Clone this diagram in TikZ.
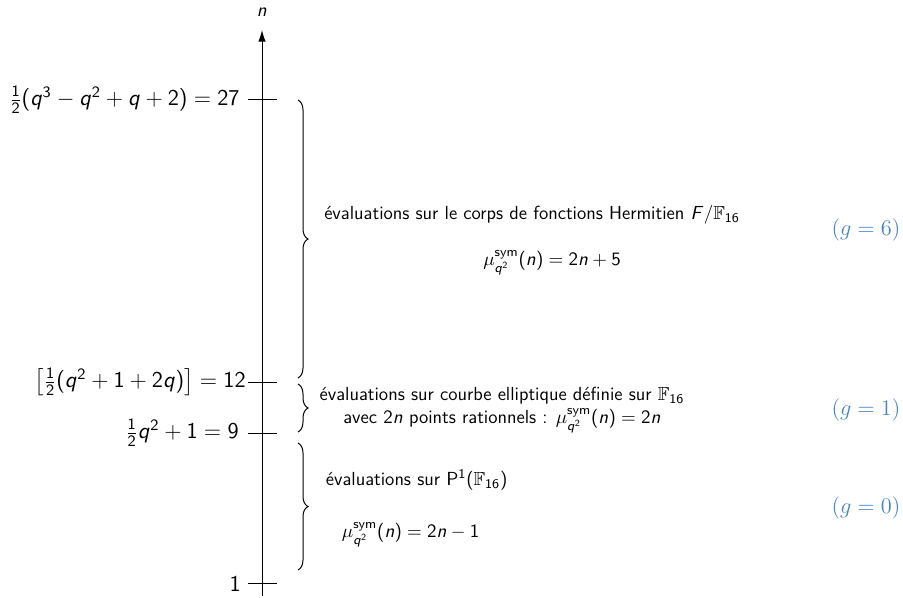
\RequirePackage{fix-cm}
\documentclass[tikz,border=0pt]{standalone}
\usepackage{amsmath}
\usepackage{amssymb}
\usepackage{tikz}
\usepackage{xcolor}
\usetikzlibrary{arrows.meta,decorations.pathreplacing}
\renewcommand{\familydefault}{\sfdefault}
% sans math, as on the slides
\SetSymbolFont{operators}{normal}{OT1}{cmss}{m}{n}
\DeclareSymbolFont{sfit}{OT1}{cmss}{m}{sl}
\DeclareMathSymbol{q}{\mathalpha}{sfit}{`q}
\DeclareMathSymbol{n}{\mathalpha}{sfit}{`n}
\DeclareMathSymbol{F}{\mathalpha}{sfit}{`F}
\definecolor{genusblue}{RGB}{70,132,196}
\newcommand{\genus}[1]{\textrm{(}$\mathnormal{g}={}$\textrm{#1)}}
\newcommand{\musym}{\mu^{\mathrm{sym}}_{q^2}(n)}

\begin{document}
\begin{tikzpicture}[x=0.6pt, y=-0.6pt, font=\fontsize{11.35}{14}\selectfont,
    brace/.style={decorate, decoration={brace, amplitude=6pt}, semithick},
    ticklab/.style={anchor=east, inner sep=0pt, font=\fontsize{13.6}{16}\selectfont},
    genuslab/.style={genusblue, font=\fontsize{13.4}{16}\selectfont}]
    \useasboundingbox (0,0) rectangle (903,598);

    % axe des n
    \coordinate (bas) at (262,596);
    \coordinate (haut) at (262,30);
    \draw[-{Latex[length=7pt,width=4.5pt]}, semithick] (bas) -- (haut);
    \node (nlab) at (262,12) {$n$};

    \foreach \yy in {100,382,433,583}
        \draw[semithick] (248,\yy) -- (277,\yy);
    \node[ticklab] (n27) at (240,100) {$\frac{1}{2}(q^3-q^2+q+2)=27$};
    \node[ticklab] (n12) at (246,382) {$\left[\frac{1}{2}(q^2+1+2q)\right]=12$};
    \node[ticklab] (n9) at (239,433) {$\frac{1}{2}q^2+1=9$};
    \node[ticklab] (n1) at (241,584) {$1$};

    % accolades
    \draw[brace] (298,100) -- (298,378);
    \draw[brace] (298,384) -- (298,432);
    \draw[brace] (298,443) -- (298,570);

    \node (herm) at (532,215) {évaluations sur le corps de fonctions Hermitien $F/\mathbb{F}_{16}$};
    \node (hermmu) at (552,263) {$\musym=2n+5$};
    \node (ell) at (502,410) [align=center]
        {évaluations sur courbe elliptique définie sur $\mathbb{F}_{16}$\\
         avec $2n$ points rationnels : $\musym=2n$};
    \node[anchor=west] (proj) at (320,480) {évaluations sur $\mathrm{P}^1(\mathbb{F}_{16})$};
    \node[anchor=west] (projmu) at (336,535) {$\musym=2n-1$};

    \node[genuslab] (g6) at (866,230) {\genus{6}};
    \node[genuslab] (g1) at (866,410) {\genus{1}};
    \node[genuslab] (g0) at (866,508) {\genus{0}};
\end{tikzpicture}
\end{document}
